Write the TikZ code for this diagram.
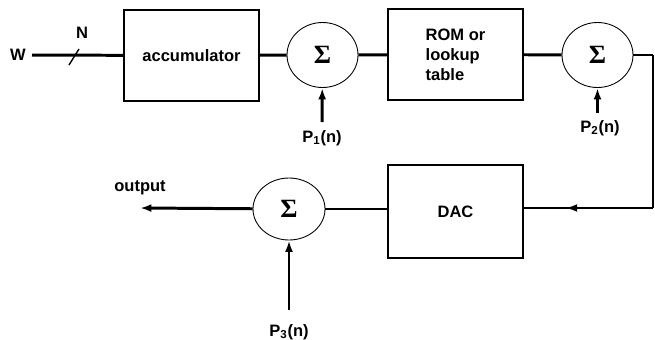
\documentclass[tikz,border=0pt]{standalone}
\usepackage{fontspec}
\setmainfont{Liberation Sans}
\newfontfamily\sigmafont{Liberation Serif}
\usetikzlibrary{shapes.geometric, arrows.meta}

\begin{document}
\begin{tikzpicture}[x = 0.02cm, y = 0.02cm,
  every node/.style = {font = \fontsize{9.4}{11.3}\selectfont\bfseries},
  block/.style = {draw, line width = 0.6pt, minimum width = 2.7cm, minimum height = 1.82cm, inner sep = 0pt},
  summer/.style = {draw, ellipse, line width = 0.5pt, minimum width = 1.42cm, minimum height = 1.3cm, inner sep = 0pt, font = \sigmafont\fontsize{15}{15}\selectfont\bfseries},
  sig/.style = {line width = 1.7pt},
  tip/.style = {-{Latex[length = 6.5pt, width = 4.5pt]}}]
\useasboundingbox (0,0) rectangle (655,339);
% upper row
\node (w) at (18,284) {W};
\node [block] (acc) at (191.5,283.5) {accumulator};
\node [summer] (s1) at (322.5,284) {Σ};
\node [block, align = left] (rom) at (455.5,284.5) {ROM or\\lookup\\table};
\node [summer] (s2) at (597.5,284) {Σ};
\node (n) at (82,306) {N};
\coordinate (c1) at (653,284);
\coordinate (c2) at (653,131);
% lower row
\node [block, minimum height = 1.86cm] (dac) at (455.5,127.5) {DAC};
\node [summer, minimum width = 1.44cm, minimum height = 1.24cm] (s3) at (289,130) {Σ};
\coordinate (out) at (140,131);
\node (outlab) at (140,151) {output};
% offsets
\node (p1) at (322,201) {P\textsubscript{1}(n)};
\node (p2) at (600,211) {P\textsubscript{2}(n)};
\node (p3) at (289,7) {P\textsubscript{3}(n)};
\coordinate (p1s) at (322,217);
\coordinate (p2s) at (597.5,226);
\coordinate (p3s) at (289,29);
% signal lines
\draw [sig] (w) -- (acc);
\draw [line width = 0.8pt] (69,274) -- (79,290);
\draw [sig] (acc) -- (s1);
\draw [sig] (s1) -- (rom);
\draw [sig] (rom) -- (s2);
\draw [sig] (s2) -- (c1);
\draw [line width = 0.9pt] (c1) -- (c2);
\draw [sig] (c2) -- (dac.east |- c2);
\draw [sig, tip] (c2) -- ([xshift = 24]dac.east |- c2);
\draw [sig] (dac.west |- s3) -- (s3);
\draw [sig, tip] (s3) -- (out);
\draw [sig, tip] (p1s) -- (s1);
\draw [sig, tip] (p2s) -- (s2);
\draw [sig, tip] (p3s) -- (s3);
\end{tikzpicture}
\end{document}
